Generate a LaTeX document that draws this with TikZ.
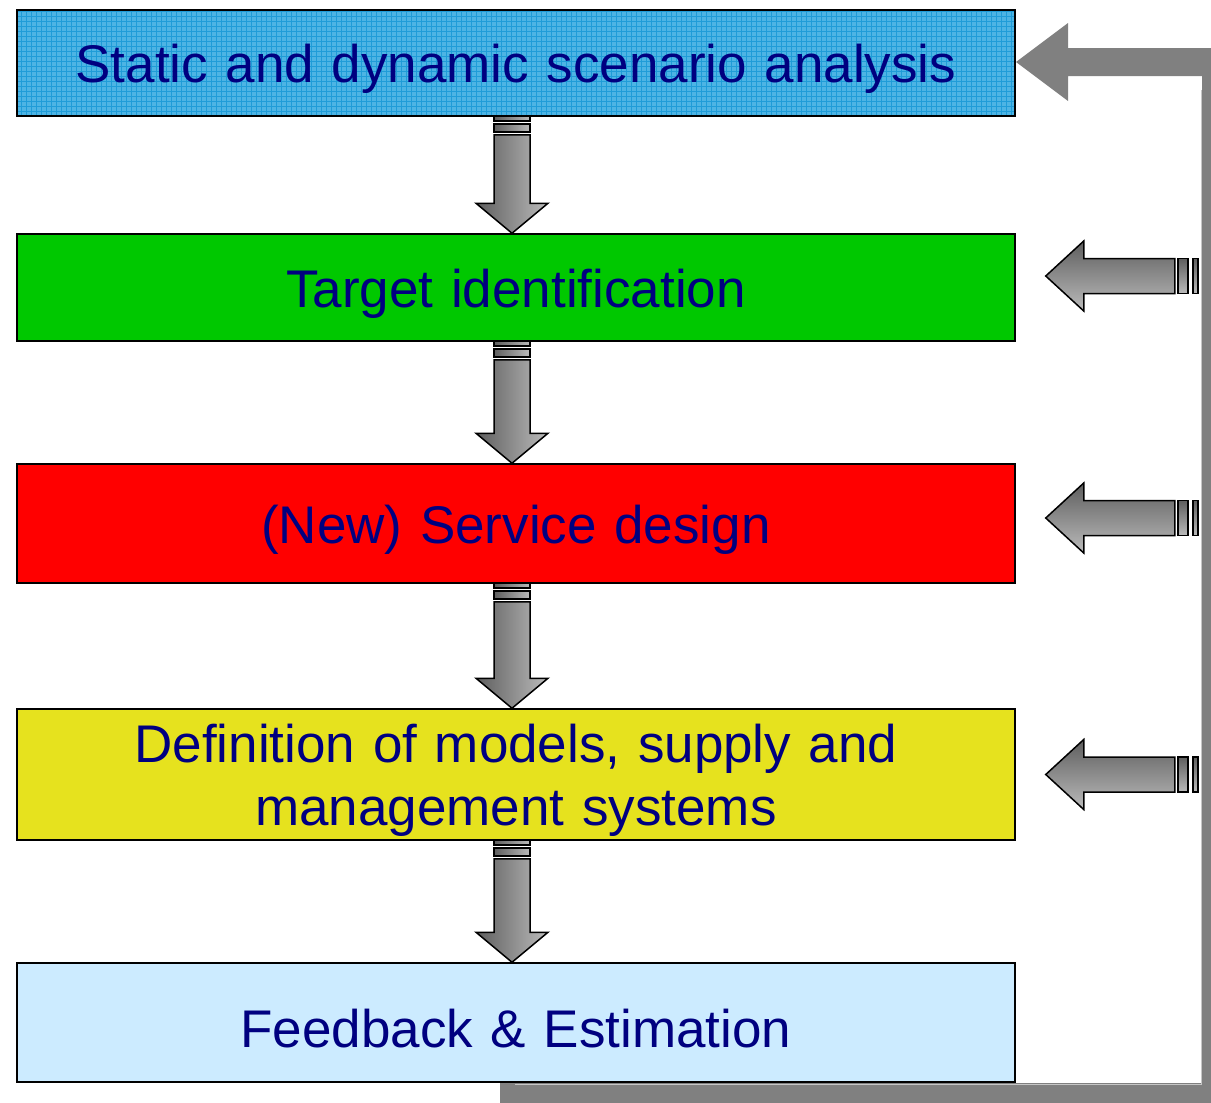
\documentclass[tikz,border=0pt]{standalone}
\usepackage{fontspec}
\setmainfont{Liberation Sans}
\usetikzlibrary{calc}

\definecolor{scenblue}{HTML}{4DB4E4}
\definecolor{gridblue}{HTML}{1F9CD8}
\definecolor{targetgreen}{HTML}{00C800}
\definecolor{designred}{HTML}{FF0000}
\definecolor{modelyellow}{HTML}{E6E21E}
\definecolor{feedblue}{HTML}{CCEBFF}
\definecolor{textnavy}{HTML}{000080}
\definecolor{loopgray}{HTML}{808080}
\definecolor{arrowdark}{HTML}{5E5E5E}
\definecolor{arrowlight}{HTML}{BBBBBB}

% text line set a little lower in its box
\newcommand{\low}[1]{\raisebox{-6pt}[\height][\depth]{#1}}

% block arrow between two stages
\newcommand{\downblock}[2]{%
  \coordinate (top) at ($(#1.south)+(-4,0)$);
  \coordinate (tip) at ($(#2.north)+(-4,0)$);
  \shadedraw[blockarrow,left color=arrowdark,right color=arrowlight] ($(top)+(-18,-1)$) rectangle ($(top)+(18,4)$);
  \shadedraw[blockarrow,left color=arrowdark,right color=arrowlight] ($(top)+(-18,7)$) rectangle ($(top)+(18,15)$);
  \shadedraw[blockarrow,left color=arrowdark,right color=arrowlight] ($(top)+(-18,18)$) -- ($(tip)+(-18,-30)$) -- ($(tip)+(-36,-30)$) -- (tip) -- ($(tip)+(36,-30)$) -- ($(tip)+(18,-30)$) -- ($(top)+(18,18)$) -- cycle;
}
% block arrow pointing at a stage from the right
\newcommand{\leftblock}[2]{%
  \coordinate (tip) at ($(#1.east)+(30,#2)$);
  \shadedraw[blockarrow,top color=arrowdark,bottom color=arrowlight] (tip) -- ($(tip)+(38,-35)$) -- ($(tip)+(38,-17.5)$) -- ($(tip)+(129,-17.5)$) -- ($(tip)+(129,17.5)$) -- ($(tip)+(38,17.5)$) -- ($(tip)+(38,35)$) -- cycle;
  \shadedraw[blockarrow,top color=arrowdark,bottom color=arrowlight] ($(tip)+(132,-17.5)$) rectangle ($(tip)+(142,17.5)$);
  \shadedraw[blockarrow,top color=arrowdark,bottom color=arrowlight] ($(tip)+(147,-17.5)$) rectangle ($(tip)+(152,17.5)$);
}

\begin{document}
\begin{tikzpicture}[
    x=1pt,y=-1pt,
    stage/.style={draw=black,line width=1.5pt,minimum width=998pt,inner sep=0pt,
      text width=960pt,align=center,text=textnavy,font=\fontsize{53}{63}\selectfont},
    blockarrow/.style={draw=black,line width=1.5pt,line join=miter},
    gridfill/.style={path picture={
      \draw[gridblue,line width=0.9pt] (path picture bounding box.south west) grid[step=5pt] (path picture bounding box.north east);}}
]
\clip (0,0) rectangle (1211,1103);
\fill[white] (0,0) rectangle (1211,1103);

%Feedback loop
\fill[loopgray] (500,1083) -- (1202,1083) -- (1202,76) -- (1068,76) -- (1068,101) -- (1016,62) -- (1068,23) -- (1068,48) -- (1230,48) -- (1230,1111) -- (500,1111) -- cycle;
\draw[loopgray!45,line width=1pt] (515,1084) -- (1201,1084) -- (1201,90);

%Draw the stages
\node[stage,fill=scenblue,gridfill,minimum height=106pt] (b1) at (516,63) {\low{Static and dynamic scenario analysis}};
\node[stage,fill=targetgreen,minimum height=107pt] (b2) at (516,287.5) {\low{Target identification}};
\node[stage,fill=designred,minimum height=119pt] (b3) at (516,523.5) {\low{(New) Service design}};
\node[stage,fill=modelyellow,minimum height=131pt] (b4) at (516,774.5) {\low{Definition of models, supply and}\\\low{management systems}};
\node[stage,fill=feedblue,minimum height=119pt] (b5) at (516,1022.5) {\low{Feedback \& Estimation}};

%Draw the arrows
\downblock{b1}{b2}
\downblock{b2}{b3}
\downblock{b3}{b4}
\downblock{b4}{b5}
\leftblock{b2}{-11.5}
\leftblock{b3}{-5.5}
\leftblock{b4}{0}

\end{tikzpicture}
\end{document}
